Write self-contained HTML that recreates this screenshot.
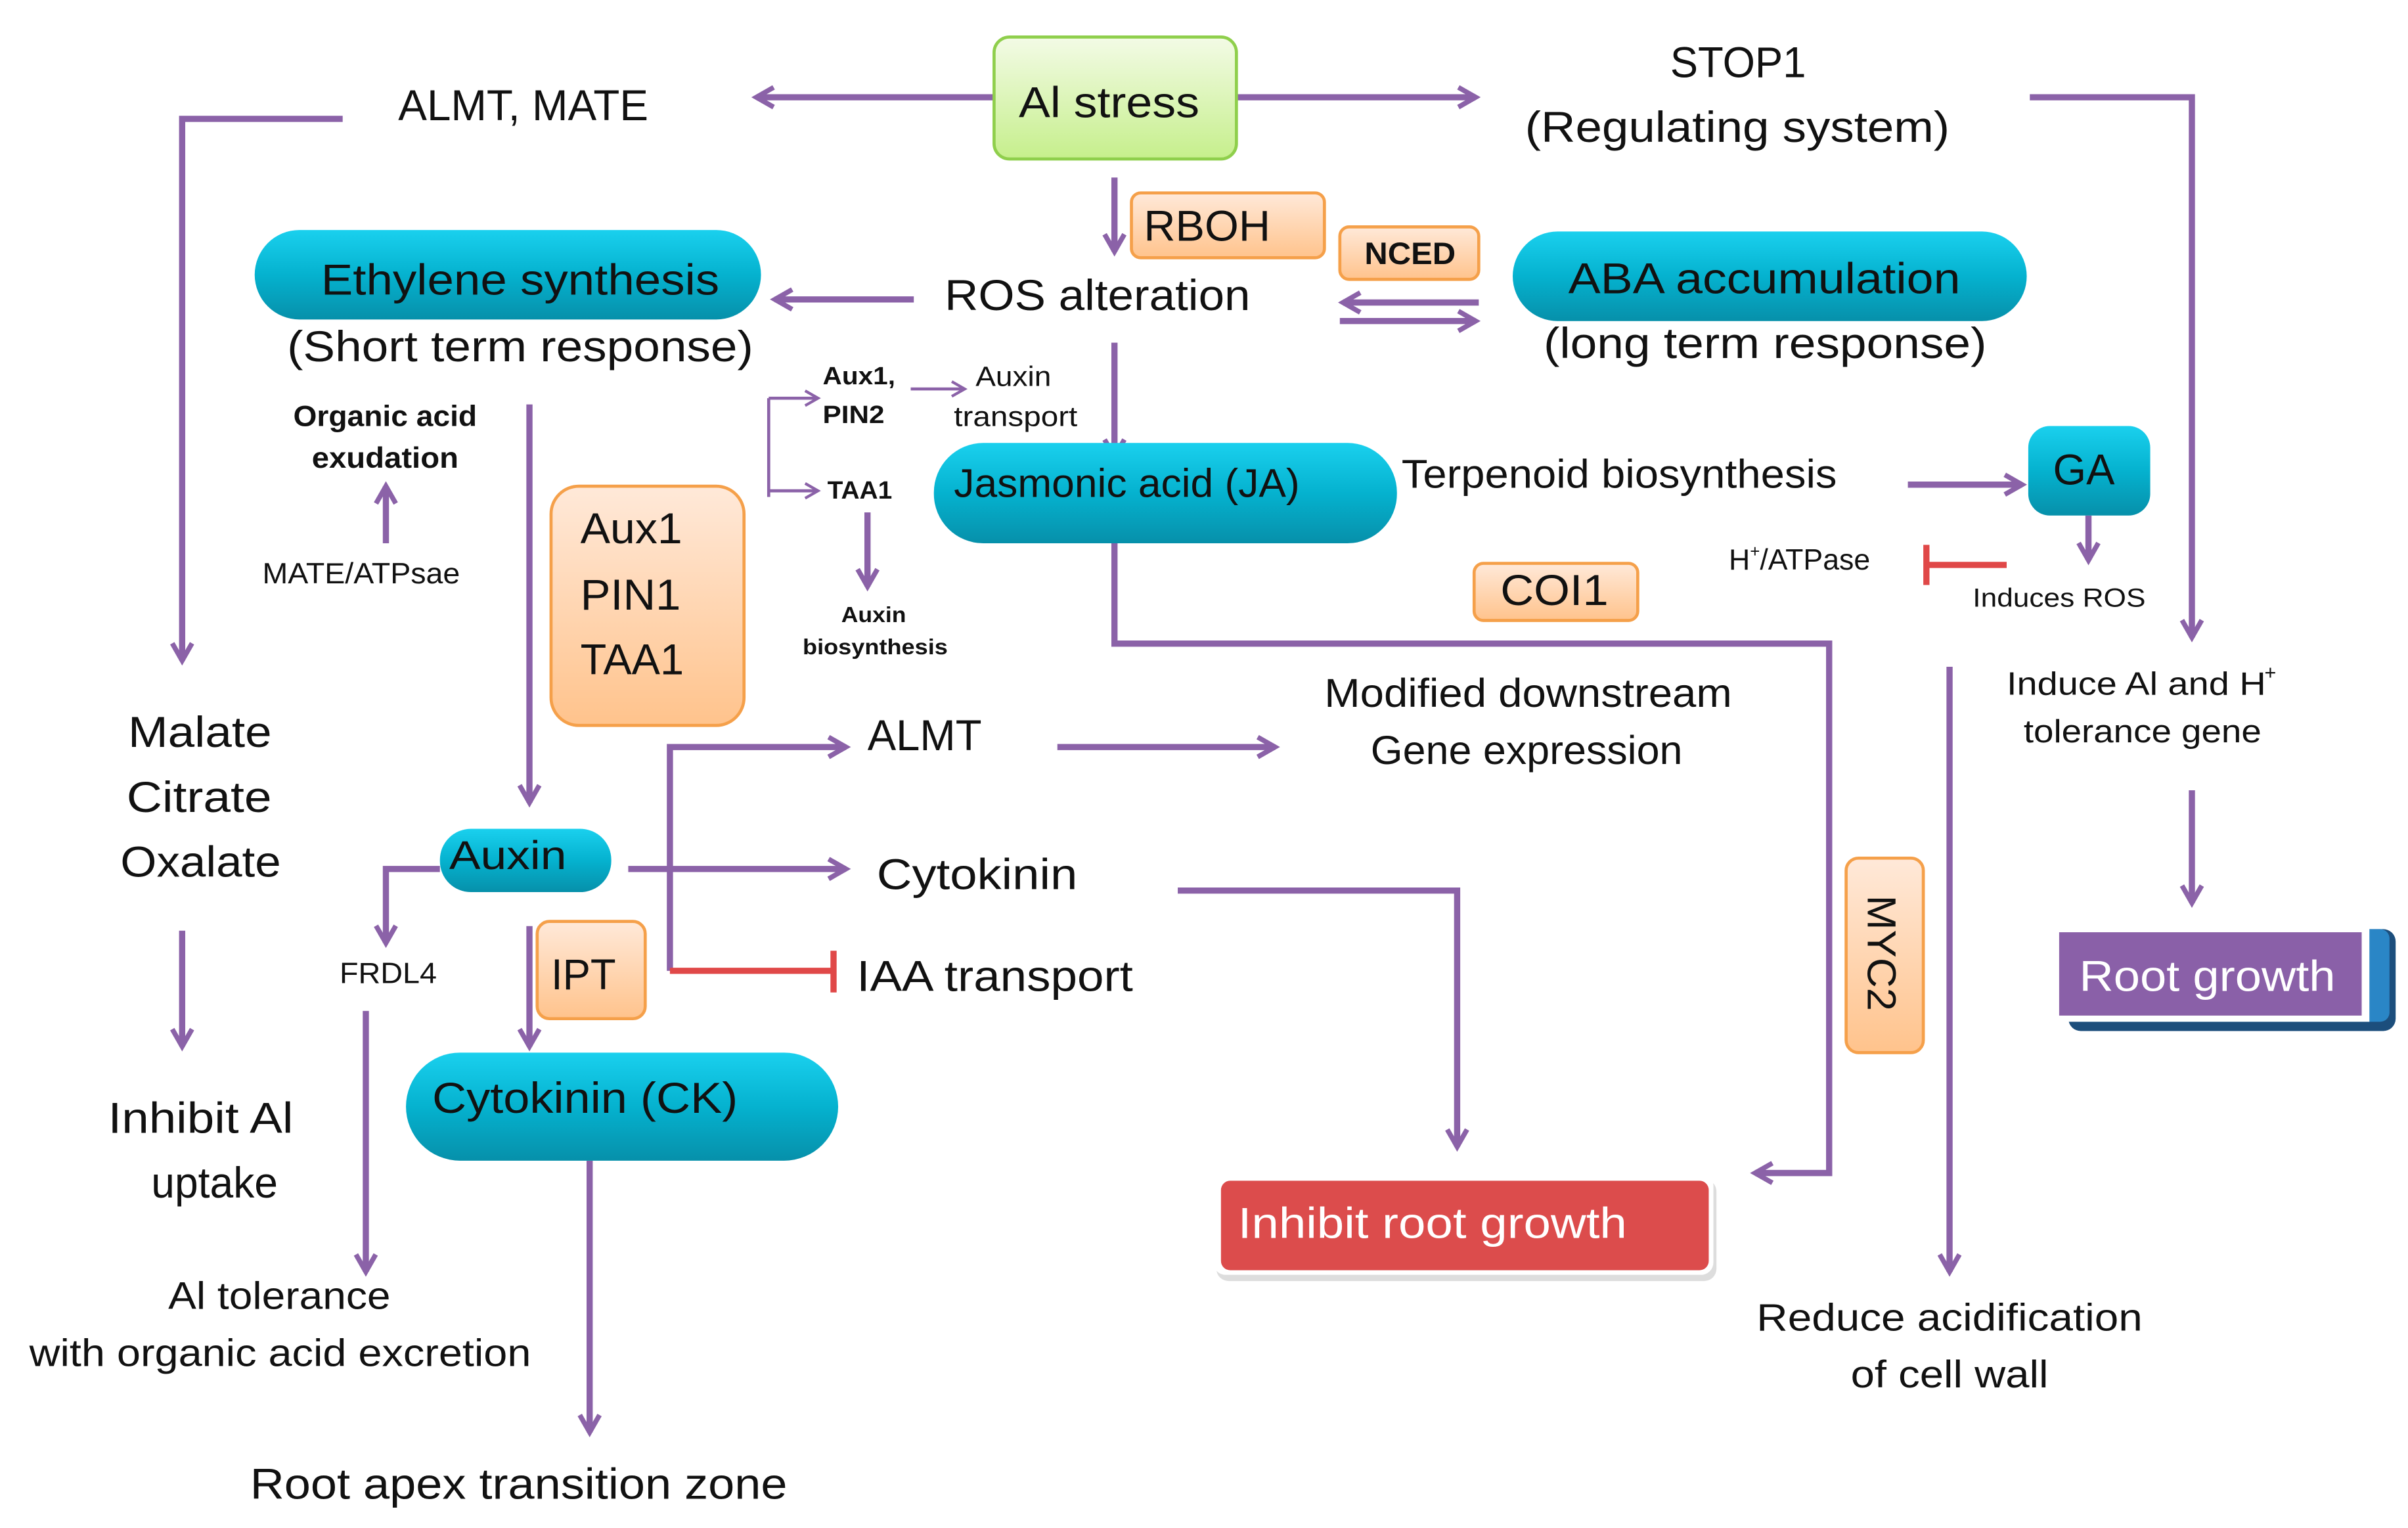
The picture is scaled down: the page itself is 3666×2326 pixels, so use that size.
<!DOCTYPE html>
<html><head><meta charset="utf-8"><style>html,body{margin:0;padding:0;background:#fff}svg{display:block}</style></head><body>
<svg xmlns="http://www.w3.org/2000/svg" width="3666" height="2326" viewBox="0 0 1560 990" preserveAspectRatio="none" font-family="'Liberation Sans Narrow','Liberation Sans',sans-serif">
<defs>
<marker id="a" viewBox="0 0 10 10" refX="8" refY="5" markerWidth="4" markerHeight="4" orient="auto" markerUnits="strokeWidth"><path d="M1,1 L8,5 L1,9" fill="none" stroke="#8b62a8" stroke-width="2"/></marker>
<marker id="s" viewBox="0 0 10 10" refX="8" refY="5" markerWidth="6" markerHeight="6" orient="auto" markerUnits="strokeWidth"><path d="M1,1 L8,5 L1,9" fill="none" stroke="#8b62a8" stroke-width="1.5"/></marker>
<linearGradient id="g" x1="0" y1="0" x2="0" y2="1"><stop offset="0" stop-color="#f3fbe6"/><stop offset="1" stop-color="#c6ef8c"/></linearGradient>
<linearGradient id="o" x1="0" y1="0" x2="0" y2="1"><stop offset="0" stop-color="#ffe9d9"/><stop offset="1" stop-color="#ffc38c"/></linearGradient>
<linearGradient id="t" x1="0" y1="0" x2="0" y2="1"><stop offset="0" stop-color="#1ad0ee"/><stop offset="0.5" stop-color="#05b2cf"/><stop offset="1" stop-color="#0690aa"/></linearGradient>
</defs>
<g fill="none" stroke="#8b62a8" stroke-width="4">
<path d="M644,63 H490" marker-end="url(#a)"/>
<path d="M801,63 H956" marker-end="url(#a)"/>
<path d="M1315,63 H1420 V413" marker-end="url(#a)"/>
<path d="M222,77 H118 V428" marker-end="url(#a)"/>
<path d="M722,115 V163" marker-end="url(#a)"/>
<path d="M592,194 H502" marker-end="url(#a)"/>
<path d="M958,196 H870" marker-end="url(#a)"/>
<path d="M868,208 H956" marker-end="url(#a)"/>
<path d="M722,222 V296" marker-end="url(#a)"/>
<path d="M250,352 V315" marker-end="url(#a)"/>
<path d="M343,262 V520" marker-end="url(#a)"/>
<path d="M562,332 V380" marker-end="url(#a)"/>
<path d="M1236,314 H1310" marker-end="url(#a)"/>
<path d="M1353,334 V363" marker-end="url(#a)"/>
<path d="M722,352 V417 H1185 V760 H1137" marker-end="url(#a)"/>
<path d="M1420,512 V585" marker-end="url(#a)"/>
<path d="M1263,432 V824" marker-end="url(#a)"/>
<path d="M118,603 V678" marker-end="url(#a)"/>
<path d="M434,629 V484 H548" marker-end="url(#a)"/>
<path d="M685,484 H826" marker-end="url(#a)"/>
<path d="M407,563 H548" marker-end="url(#a)"/>
<path d="M285,563 H250 V611" marker-end="url(#a)"/>
<path d="M237,655 V824" marker-end="url(#a)"/>
<path d="M343,600 V678" marker-end="url(#a)"/>
<path d="M382,752 V928" marker-end="url(#a)"/>
<path d="M763,577 H944 V743" marker-end="url(#a)"/>
</g>
<g fill="none" stroke="#8b62a8" stroke-width="2">
<path d="M498,258 V322"/>
<path d="M498,258 H530" marker-end="url(#s)"/>
<path d="M498,318 H530" marker-end="url(#s)"/>
<path d="M590,252 H625" marker-end="url(#s)"/>
</g>
<g stroke="#e04848" stroke-width="4" fill="none">
<path d="M434,629 H540 M540,616 V643"/>
<path d="M1300,366 H1248 M1248,353 V379"/>
</g>
<!-- boxes -->
<rect x="644" y="24" width="157" height="79" rx="10" fill="url(#g)" stroke="#8fcf4c" stroke-width="2"/>
<rect x="733" y="125" width="125" height="42" rx="6" fill="url(#o)" stroke="#f5a04a" stroke-width="2"/>
<rect x="868" y="147" width="90" height="34" rx="6" fill="url(#o)" stroke="#f5a04a" stroke-width="2"/>
<rect x="955" y="365" width="106" height="37" rx="6" fill="url(#o)" stroke="#f5a04a" stroke-width="2"/>
<rect x="357" y="315" width="125" height="155" rx="18" fill="url(#o)" stroke="#f5a04a" stroke-width="2"/>
<rect x="348" y="597" width="70" height="63" rx="8" fill="url(#o)" stroke="#f5a04a" stroke-width="2"/>
<rect x="1196" y="556" width="50" height="126" rx="8" fill="url(#o)" stroke="#f5a04a" stroke-width="2"/>
<rect x="165" y="149" width="328" height="58" rx="29" fill="url(#t)"/>
<rect x="980" y="150" width="333" height="58" rx="29" fill="url(#t)"/>
<rect x="605" y="287" width="300" height="65" rx="32" fill="url(#t)"/>
<rect x="1314" y="276" width="79" height="58" rx="14" fill="url(#t)"/>
<rect x="285" y="537" width="111" height="41" rx="20" fill="url(#t)"/>
<rect x="263" y="682" width="280" height="70" rx="35" fill="url(#t)"/>
<rect x="1340" y="602" width="212" height="66" rx="8" fill="#1c4e7c"/>
<rect x="1340" y="602" width="208" height="60" rx="6" fill="#2a86c6"/>
<rect x="1329" y="600" width="206" height="62" fill="#fff"/>
<rect x="1334" y="604" width="196" height="54" fill="#8a60a8"/>
<rect x="788" y="764" width="324" height="66" rx="8" fill="#ddd"/>
<rect x="786" y="760" width="324" height="66" rx="8" fill="#fff"/>
<rect x="791" y="765" width="316" height="58" rx="6" fill="#dc4c4c"/>
<!-- text -->
<g fill="#111" font-size="28">
<text x="258" y="78" textLength="162" lengthAdjust="spacingAndGlyphs">ALMT, MATE</text>
<text x="660" y="76" textLength="117" lengthAdjust="spacingAndGlyphs">Al stress</text>
<text x="1082" y="50" textLength="88" lengthAdjust="spacingAndGlyphs">STOP1</text>
<text x="988" y="92" textLength="275" lengthAdjust="spacingAndGlyphs">(Regulating system)</text>
<text x="741" y="156" textLength="82" lengthAdjust="spacingAndGlyphs">RBOH</text>
<text x="884" y="171" font-size="20" font-weight="bold" textLength="59" lengthAdjust="spacingAndGlyphs">NCED</text>
<text x="612" y="201" textLength="198" lengthAdjust="spacingAndGlyphs">ROS alteration</text>
<text x="208" y="191" textLength="258" lengthAdjust="spacingAndGlyphs">Ethylene synthesis</text>
<text x="186" y="234" textLength="302" lengthAdjust="spacingAndGlyphs">(Short term response)</text>
<text x="1016" y="190" textLength="254" lengthAdjust="spacingAndGlyphs">ABA accumulation</text>
<text x="1000" y="232" textLength="287" lengthAdjust="spacingAndGlyphs">(long term response)</text>
<text x="618" y="322" font-size="26" textLength="224" lengthAdjust="spacingAndGlyphs">Jasmonic acid (JA)</text>
<text x="908" y="316" font-size="26" textLength="282" lengthAdjust="spacingAndGlyphs">Terpenoid biosynthesis</text>
<text x="1330" y="314" textLength="40" lengthAdjust="spacingAndGlyphs">GA</text>
<text x="972" y="392" textLength="70" lengthAdjust="spacingAndGlyphs">COI1</text>
<text x="376" y="352" textLength="66" lengthAdjust="spacingAndGlyphs">Aux1</text>
<text x="376" y="395" textLength="65" lengthAdjust="spacingAndGlyphs">PIN1</text>
<text x="376" y="437" textLength="67" lengthAdjust="spacingAndGlyphs">TAA1</text>
<text x="858" y="458" font-size="26" textLength="264" lengthAdjust="spacingAndGlyphs">Modified downstream</text>
<text x="888" y="495" font-size="26" textLength="202" lengthAdjust="spacingAndGlyphs">Gene expression</text>
<text x="83" y="484" textLength="93" lengthAdjust="spacingAndGlyphs">Malate</text>
<text x="82" y="526" textLength="94" lengthAdjust="spacingAndGlyphs">Citrate</text>
<text x="78" y="568" textLength="104" lengthAdjust="spacingAndGlyphs">Oxalate</text>
<text x="70" y="734" textLength="120" lengthAdjust="spacingAndGlyphs">Inhibit Al</text>
<text x="98" y="776" textLength="82" lengthAdjust="spacingAndGlyphs">uptake</text>
<text x="562" y="486" textLength="74" lengthAdjust="spacingAndGlyphs">ALMT</text>
<text x="291" y="563" font-size="26" textLength="76" lengthAdjust="spacingAndGlyphs">Auxin</text>
<text x="568" y="576" textLength="130" lengthAdjust="spacingAndGlyphs">Cytokinin</text>
<text x="555" y="642" textLength="179" lengthAdjust="spacingAndGlyphs">IAA transport</text>
<text x="357" y="641" textLength="42" lengthAdjust="spacingAndGlyphs">IPT</text>
<text x="280" y="721" textLength="198" lengthAdjust="spacingAndGlyphs">Cytokinin (CK)</text>
<text x="162" y="971" textLength="348" lengthAdjust="spacingAndGlyphs">Root apex transition zone</text>
<text x="1138" y="862" font-size="25" textLength="250" lengthAdjust="spacingAndGlyphs">Reduce acidification</text>
<text x="1199" y="899" font-size="25" textLength="128" lengthAdjust="spacingAndGlyphs">of cell wall</text>
<text x="109" y="848" font-size="25" textLength="144" lengthAdjust="spacingAndGlyphs">Al tolerance</text>
<text x="19" y="885" font-size="25" textLength="325" lengthAdjust="spacingAndGlyphs">with organic acid excretion</text>
<text x="1300" y="450" font-size="21" textLength="168" lengthAdjust="spacingAndGlyphs">Induce Al and H</text>
<text x="1467" y="440" font-size="13">+</text>
<text x="1311" y="481" font-size="21" textLength="154" lengthAdjust="spacingAndGlyphs">tolerance gene</text>
<text x="220" y="637" font-size="19" textLength="63" lengthAdjust="spacingAndGlyphs">FRDL4</text>
<text x="170" y="378" font-size="19" textLength="128" lengthAdjust="spacingAndGlyphs">MATE/ATPsae</text>
<text x="190" y="276" font-size="19" font-weight="bold" textLength="119" lengthAdjust="spacingAndGlyphs">Organic acid</text>
<text x="202" y="303" font-size="19" font-weight="bold" textLength="95" lengthAdjust="spacingAndGlyphs">exudation</text>
<text x="1120" y="369" font-size="19">H<tspan font-size="11" dy="-8">+</tspan><tspan dy="8">/ATPase</tspan></text>
<text x="1278" y="393" font-size="17" textLength="112" lengthAdjust="spacingAndGlyphs">Induces ROS</text>
<text x="533" y="249" font-size="16" font-weight="bold" textLength="47" lengthAdjust="spacingAndGlyphs">Aux1,</text>
<text x="533" y="274" font-size="16" font-weight="bold" textLength="40" lengthAdjust="spacingAndGlyphs">PIN2</text>
<text x="536" y="323" font-size="16" font-weight="bold" textLength="42" lengthAdjust="spacingAndGlyphs">TAA1</text>
<text x="632" y="250" font-size="18" textLength="49" lengthAdjust="spacingAndGlyphs">Auxin</text>
<text x="618" y="276" font-size="18" textLength="80" lengthAdjust="spacingAndGlyphs">transport</text>
<text x="545" y="403" font-size="14" font-weight="bold" textLength="42" lengthAdjust="spacingAndGlyphs">Auxin</text>
<text x="520" y="424" font-size="14" font-weight="bold" textLength="94" lengthAdjust="spacingAndGlyphs">biosynthesis</text>
<text transform="translate(1210,580) rotate(90)" font-size="26" textLength="75" lengthAdjust="spacingAndGlyphs">MYC2</text>
</g>
<g fill="#fff" font-size="28">
<text x="1347" y="642" textLength="166" lengthAdjust="spacingAndGlyphs">Root growth</text>
<text x="802" y="802" textLength="252" lengthAdjust="spacingAndGlyphs">Inhibit root growth</text>
</g>
</svg>
</body></html>
